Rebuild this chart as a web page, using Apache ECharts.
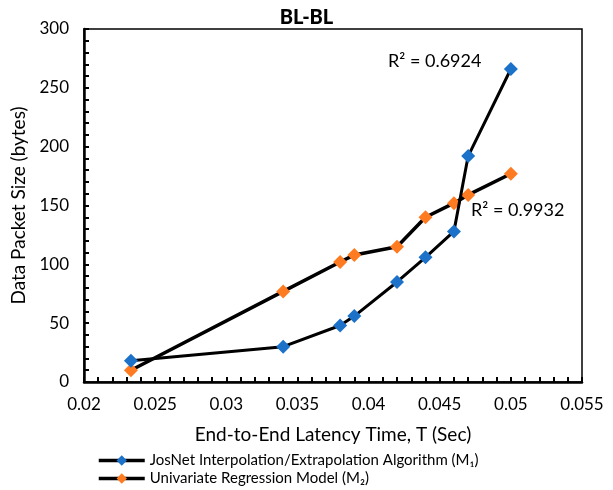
<!DOCTYPE html>
<html>
<head>
<meta charset="utf-8">
<script src="https://cdn.jsdelivr.net/npm/echarts@6/dist/echarts.min.js"></script>
<style>
html,body{margin:0;padding:0;background:#fff;}
#chart{width:613px;height:490px;}
</style>
</head>
<body>
<div id="chart"></div>
<script>
// Data
const latencyT = [0.0233, 0.034, 0.038, 0.039, 0.042, 0.044, 0.046, 0.047, 0.05];
const josNetM1 = [18, 30, 48, 56, 85, 106, 128, 192, 266];
const regressionM2 = [10, 77, 102, 108, 115, 140, 152, 159, 177];
const seriesNames = ['JosNet Interpolation/Extrapolation Algorithm (M\u2081)', 'Univariate Regression Model (M\u2082)'];
const r2Labels = ['R\u00b2 = 0.6924', 'R\u00b2 = 0.9932'];
const xTicks = { min: 0.02, max: 0.055, interval: 0.005 };
const yTicks = { min: 0, max: 300, interval: 50 };

const FONT = 'Lato, "Open Sans", sans-serif';
const pair = (xs, ys) => xs.map((x, i) => [x, ys[i]]);

const legendBase = {
  orient: 'vertical', left: 92, itemWidth: 46, itemHeight: 13,
  lineStyle: { width: 3.5, color: '#000' },
  textStyle: { fontFamily: FONT, fontSize: 15, color: '#000' }
};

const chart = echarts.init(document.getElementById('chart'));
chart.setOption({
  animation: false,
  backgroundColor: '#fff',
  textStyle: { fontFamily: FONT, color: '#000' },
  title: {
    text: 'BL-BL', left: 'center', top: 3,
    textStyle: { fontFamily: FONT, fontSize: 20, fontWeight: 900, color: '#000' }
  },
  grid: { left: 84, right: 31, top: 29, bottom: 108, show: true, borderColor: '#000', borderWidth: 1.5 },
  legend: [
    Object.assign({}, legendBase, { top: 448, data: [seriesNames[0]] }),
    Object.assign({}, legendBase, { top: 466, data: [seriesNames[1]] })
  ],
  xAxis: {
    type: 'value', min: xTicks.min, max: xTicks.max, interval: xTicks.interval,
    name: 'End-to-End Latency Time, T (Sec)', nameLocation: 'middle', nameGap: 43,
    nameTextStyle: { fontFamily: FONT, fontSize: 19, color: '#000' },
    axisLine: { show: true, lineStyle: { color: '#000', width: 2.5 } },
    axisTick: { show: true, inside: true, length: 5, lineStyle: { color: '#000', width: 2 } },
    minorTick: { show: true, splitNumber: 5, length: 5, lineStyle: { color: '#000', width: 2 } },
    splitLine: { show: false },
    axisLabel: { fontFamily: FONT, fontSize: 17, color: '#000', margin: 14, formatter: v => String(+v.toFixed(3)) }
  },
  yAxis: {
    type: 'value', min: yTicks.min, max: yTicks.max, interval: yTicks.interval,
    name: 'Data Packet Size (bytes)', nameLocation: 'middle', nameGap: 48, nameRotate: 90,
    nameTextStyle: { fontFamily: FONT, fontSize: 19, color: '#000' },
    axisLine: { show: true, lineStyle: { color: '#000', width: 2.5 } },
    axisTick: { show: true, inside: true, length: 5, lineStyle: { color: '#000', width: 2 } },
    minorTick: { show: true, splitNumber: 5, length: 5, lineStyle: { color: '#000', width: 2 } },
    splitLine: { show: false },
    axisLabel: { fontFamily: FONT, fontSize: 17, color: '#000', margin: 15 }
  },
  series: [
    {
      name: seriesNames[0], type: 'line', data: pair(latencyT, josNetM1),
      symbol: 'diamond', symbolSize: 14, showAllSymbol: true,
      lineStyle: { color: '#000', width: 3 },
      itemStyle: { color: '#1B72C8', borderWidth: 0 },
      z: 3
    },
    {
      name: seriesNames[1], type: 'line', data: pair(latencyT, regressionM2),
      symbol: 'diamond', symbolSize: 14, showAllSymbol: true,
      lineStyle: { color: '#000', width: 3.5 },
      itemStyle: { color: '#FF7B22', borderWidth: 0 },
      z: 2
    }
  ],
  graphic: [
    { type: 'text', left: 388, top: 52, style: { text: r2Labels[0], font: '18px ' + FONT, fill: '#000' } },
    { type: 'text', left: 471, top: 201, style: { text: r2Labels[1], font: '18px ' + FONT, fill: '#000' } }
  ]
});
</script>
</body>
</html>
